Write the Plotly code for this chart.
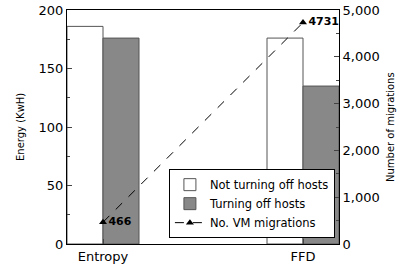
import plotly.graph_objects as go

categories = ["Entropy", "FFD"]
not_turning_off = [186, 176]
turning_off = [176, 135]
migrations = [466, 4731]
migration_labels = ["<b>466</b>", "<b>4731</b>"]

xpos = list(range(len(categories)))
W = 0.18

fig = go.Figure()
fig.add_trace(go.Bar(x=xpos, y=not_turning_off, width=W, offset=-W,
                     marker=dict(color="white", line=dict(color="#555", width=1)),
                     name="Not turning off hosts"))
fig.add_trace(go.Bar(x=xpos, y=turning_off, width=W, offset=0,
                     marker=dict(color="#888888", line=dict(color="#555", width=1)),
                     name="Turning off hosts"))
fig.add_trace(go.Scatter(x=xpos, y=migrations, yaxis="y2", mode="lines+markers+text",
                         line=dict(color="black", dash="dash", width=1),
                         marker=dict(symbol="triangle-up", size=7, color="black"),
                         text=migration_labels, textposition="middle right",
                         textfont=dict(size=11, color="black"),
                         name="No. VM migrations"))

fig.update_layout(
    width=400, height=267,
    margin=dict(l=67, r=61, t=10, b=23, autoexpand=False),
    paper_bgcolor="white", plot_bgcolor="white",
    font=dict(family="DejaVu Sans", size=13, color="black"),
    barmode="overlay",
    xaxis=dict(range=[-0.18, 1.18], tickvals=xpos, ticktext=categories,
               ticks="inside", ticklen=5, showline=True, linecolor="black",
               mirror=True, showgrid=False, zeroline=False, automargin=False),
    yaxis=dict(range=[0, 200], tickvals=[0, 50, 100, 150, 200], ticks="inside",
               ticklen=5, showline=True, linecolor="black", showgrid=False,
               zeroline=False, automargin=False, ticklabeloverflow="allow",
               minor=dict(ticks="inside", ticklen=3, dtick=25, showgrid=False)),
    yaxis2=dict(range=[0, 5000], overlaying="y", side="right",
                tickvals=[0, 1000, 2000, 3000, 4000, 5000],
                ticktext=["0", "1,000", "2,000", "3,000", "4,000", "5,000"],
                ticks="inside", ticklen=5, showline=True, linecolor="black",
                showgrid=False, zeroline=False, automargin=False,
                ticklabeloverflow="allow",
                minor=dict(ticks="inside", ticklen=3, dtick=500, showgrid=False)),
    legend=dict(x=0.985, y=0.025, xanchor="right", yanchor="bottom",
                bgcolor="white", bordercolor="black", borderwidth=1,
                font=dict(size=11.5), tracegroupgap=0, itemwidth=30),
    showlegend=True,
    annotations=[
        dict(text="Energy (KwH)", xref="paper", yref="paper", x=0, y=0.5,
             xshift=-47, textangle=-90, showarrow=False, font=dict(size=10),
             xanchor="center", yanchor="middle"),
        dict(text="Number of migrations", xref="paper", yref="paper", x=1, y=0.5,
             xshift=51, textangle=-90, showarrow=False, font=dict(size=10),
             xanchor="center", yanchor="middle"),
    ],
)

fig.write_html("out.html", config={"displayModeBar": False},
               post_script="document.body.style.margin='0';document.body.style.overflow='hidden';")
